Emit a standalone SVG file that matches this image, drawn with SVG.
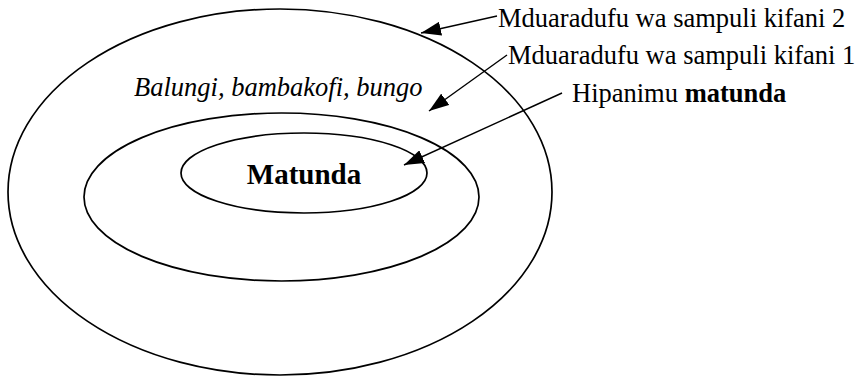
<svg xmlns="http://www.w3.org/2000/svg" width="857" height="376" viewBox="0 0 857 376">
<style>
.e{fill:none;stroke:#000;stroke-width:1.7}
.c{fill:none;stroke:#000;stroke-width:1.4}
.t{font-family:"Liberation Serif","Times New Roman",serif;font-size:26.5px;fill:#000}
</style>
<defs>
<marker id="ah" markerUnits="userSpaceOnUse" markerWidth="20" markerHeight="14" refX="20" refY="7" orient="auto" viewBox="0 0 20 14">
<path d="M0,0 L20,7 L0,14 z" fill="#000"/>
</marker>
</defs>
<rect width="857" height="376" fill="#fff"/>
<g id="outer"><ellipse class="e" cx="280" cy="192" rx="272" ry="183"/></g>
<g id="middle"><ellipse class="e" cx="281.5" cy="197" rx="197.5" ry="84"/></g>
<g id="inner"><ellipse class="e" cx="304" cy="173" rx="123" ry="40"/>
<text class="t" x="304" y="184" text-anchor="middle" font-weight="bold" style="font-size:29px">Matunda</text></g>
<g id="label-examples"><text class="t" x="134" y="96" font-style="italic">Balungi, bambakofi, bungo</text></g>
<g id="label-kifani2"><text class="t" x="498" y="27">Mduaradufu wa sampuli kifani 2</text></g>
<g id="label-kifani1"><text class="t" x="508" y="64">Mduaradufu wa sampuli kifani 1</text></g>
<g id="label-hipanimu"><text class="t" x="572" y="102">Hipanimu <tspan font-weight="bold">matunda</tspan></text></g>
<g id="connectors">
<line class="c" x1="497" y1="16" x2="421" y2="33" marker-end="url(#ah)"/>
<line class="c" x1="507" y1="55" x2="429" y2="111" marker-end="url(#ah)"/>
<line class="c" x1="562" y1="93" x2="404" y2="165" marker-end="url(#ah)"/>
</g>
</svg>
